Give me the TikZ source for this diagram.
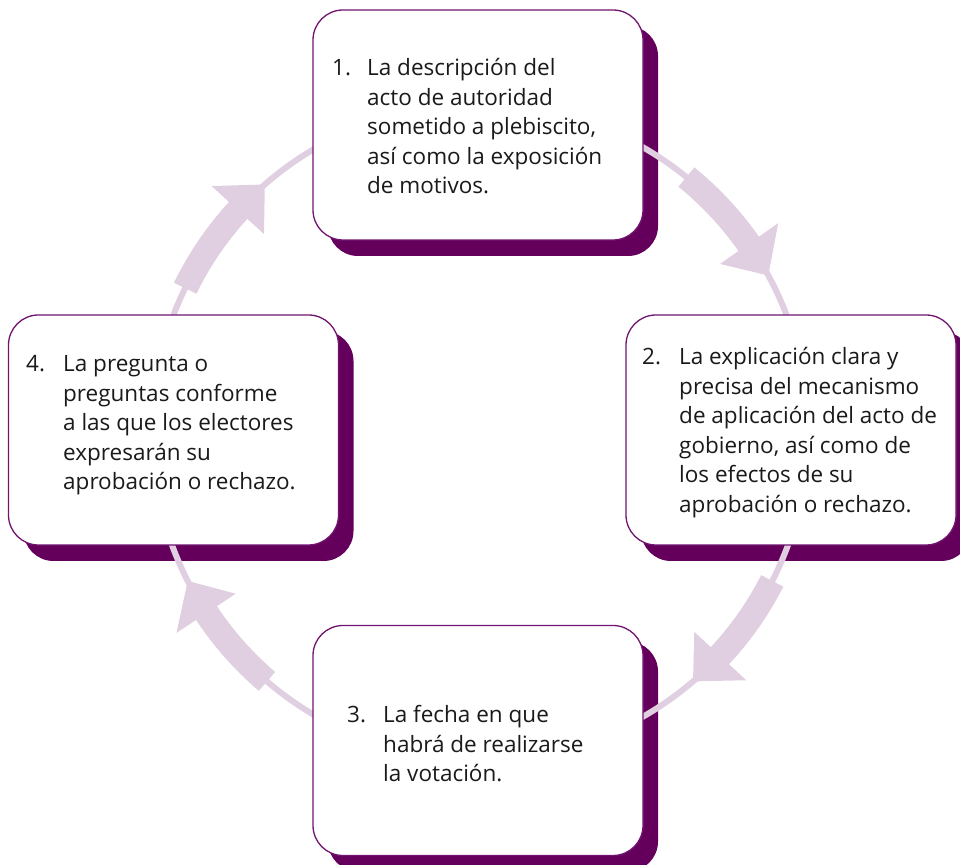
\documentclass[tikz,border=0pt]{standalone}
\usepackage{fontspec}
\setmainfont{Open Sans}
\definecolor{arrowc}{RGB}{224,206,225}
\definecolor{shadowc}{RGB}{100,0,92}
\definecolor{borderc}{RGB}{112,20,112}
\definecolor{textc}{RGB}{26,26,26}
\begin{document}
\begin{tikzpicture}[x=1pt,y=1pt,
  boxw/.style={draw=borderc, line width=1.3pt, fill=white, rounded corners=30pt,
    minimum width=330pt, minimum height=230pt, inner sep=0pt},
  boxs/.style={fill=shadowc, rounded corners=30pt,
    minimum width=330pt, minimum height=230pt, inner sep=0pt},
  ring/.style={draw=arrowc, line width=6pt},
  shaft/.style={draw=arrowc, line width=25pt},
  headtip/.style={fill=arrowc},
  numlab/.style={anchor=base west, inner sep=0pt, text=textc,
    font=\fontsize{22.5}{29.5}\selectfont},
  itemtxt/.style={anchor=base west, inner sep=0pt, text=textc,
    font=\fontsize{22.5}{29.5}\selectfont}
]
\useasboundingbox (0,0) rectangle (960,864);
\coordinate (c) at (480,432);

% shadows
\node[boxs] (s1) at (493,723) {};
\node[boxs] (s2) at (806,418) {};
\node[boxs] (s3) at (493,107.5) {};
\node[boxs] (s4) at (188.5,418) {};

% ring
\draw[ring] (c) circle[radius=328];

% arrows (clockwise)
\draw[shaft] ([shift={(154:328)}]c) arc[start angle=154, end angle=137, radius=328];
\fill[headtip] ([shift={(137.5:364)}]c) -- ([shift={(131:328)}]c) -- ([shift={(137.5:293)}]c) -- cycle;

\draw[shaft] ([shift={(51:328)}]c) arc[start angle=51, end angle=34.5, radius=328];
\fill[headtip] ([shift={(35:364)}]c) -- ([shift={(28.5:328)}]c) -- ([shift={(35:293)}]c) -- cycle;

\draw[shaft] ([shift={(-27:328)}]c) arc[start angle=-27, end angle=-43.5, radius=328];
\fill[headtip] ([shift={(-43:364)}]c) -- ([shift={(-49.5:328)}]c) -- ([shift={(-43:293)}]c) -- cycle;

\draw[shaft] ([shift={(229.5:328)}]c) arc[start angle=229.5, end angle=213, radius=328];
\fill[headtip] ([shift={(213.5:364)}]c) -- ([shift={(207:328)}]c) -- ([shift={(213.5:293)}]c) -- cycle;

% boxes
\node[boxw] (b1) at (478,739) {};
\node[boxw] (b2) at (791,434) {};
\node[boxw] (b3) at (478,123.5) {};
\node[boxw] (b4) at (173.5,434) {};

% texts
\node[numlab] (n1) at (332,788) {1.};
\node[itemtxt] (t1) at (367,788) {\parbox[t]{300pt}{\raggedright
La descripción del\\acto de autoridad\\sometido a plebiscito,\\así como la exposición\\de motivos.}};

\node[numlab] (n2) at (642,499) {2.};
\node[itemtxt] (t2) at (679,499) {\parbox[t]{300pt}{\raggedright
La explicación clara y\\precisa del mecanismo\\de aplicación del acto de\\gobierno, así como de\\los efectos de su\\aprobación o rechazo.}};

\node[numlab] (n3) at (347,141) {3.};
\node[itemtxt] (t3) at (383,141) {\parbox[t]{300pt}{\raggedright
La fecha en que\\habrá de realizarse\\la votación.}};

\node[numlab] (n4) at (26,492) {4.};
\node[itemtxt] (t4) at (63,492) {\parbox[t]{300pt}{\raggedright
La pregunta o\\preguntas conforme\\a las que los electores\\expresarán su\\aprobación o rechazo.}};
\end{tikzpicture}
\end{document}
